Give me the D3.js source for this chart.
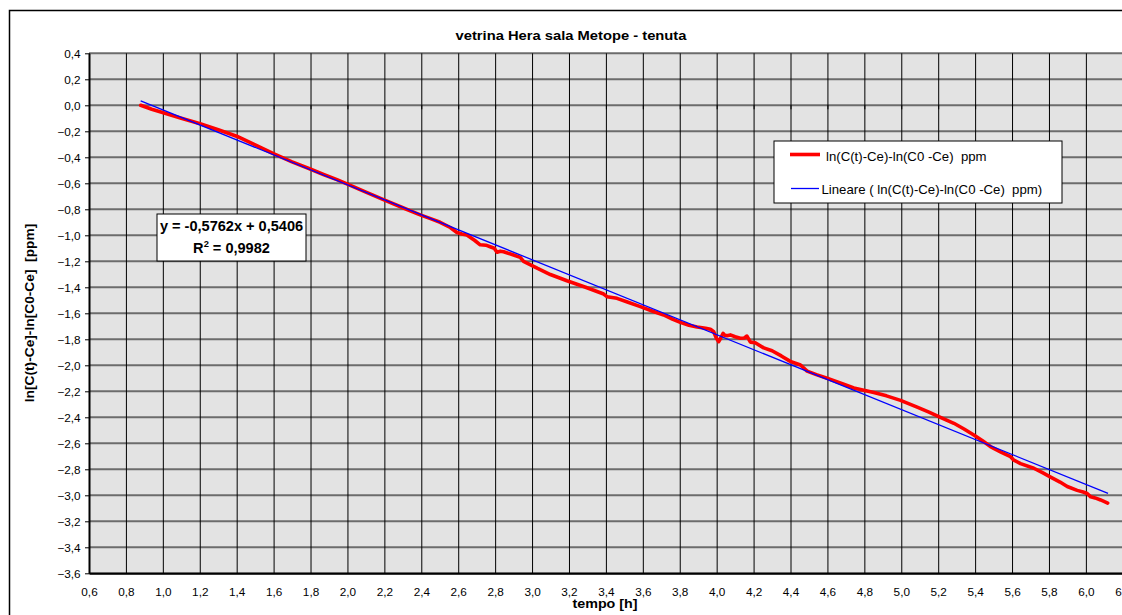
<!DOCTYPE html>
<html>
<head>
<meta charset="utf-8">
<script src="https://cdn.jsdelivr.net/npm/d3@7/dist/d3.min.js"></script>
<style>
  html, body { margin: 0; padding: 0; background: #fff; overflow: hidden; }
  svg { display: block; font-family: "Liberation Sans", Arial, sans-serif; }
</style>
</head>
<body>
<svg id="chart" width="1122" height="615"></svg>
<script>
// Measured series: elapsed time [h] and ln(C(t)-Ce)-ln(C0-Ce)
const tempo = [
  0.880, 0.940, 1.003, 1.100, 1.202, 1.300, 1.400, 1.500, 1.599, 1.700,
  1.798, 1.870, 1.943, 1.997, 2.100, 2.195, 2.300, 2.394, 2.450, 2.502,
  2.557, 2.593, 2.620, 2.647, 2.690, 2.719, 2.750, 2.773, 2.795, 2.810,
  2.828, 2.846, 2.900, 2.936, 2.954, 3.030, 3.099, 3.189, 3.290, 3.388,
  3.406, 3.460, 3.520, 3.587, 3.650, 3.713, 3.760, 3.803, 3.850, 3.894,
  3.940, 3.966, 3.984, 3.998, 4.011, 4.022, 4.035, 4.045, 4.056, 4.074,
  4.100, 4.128, 4.150, 4.164, 4.183, 4.209, 4.255, 4.300, 4.350, 4.399,
  4.454, 4.490, 4.540, 4.598, 4.688, 4.743, 4.851, 4.920, 4.996, 5.086,
  5.150, 5.212, 5.285, 5.340, 5.393, 5.440, 5.483, 5.540, 5.592, 5.610,
  5.646, 5.718, 5.770, 5.809, 5.860, 5.899, 5.953, 5.985, 6.007, 6.026,
  6.050, 6.080, 6.118
];
const lnRatio = [
  0.000, -0.030, -0.058, -0.100, -0.142, -0.188, -0.238, -0.305, -0.372, -0.435,
  -0.490, -0.532, -0.572, -0.605, -0.668, -0.725, -0.788, -0.843, -0.872, -0.900,
  -0.940, -0.978, -0.990, -0.998, -1.040, -1.073, -1.076, -1.088, -1.100, -1.130,
  -1.122, -1.126, -1.152, -1.170, -1.200, -1.255, -1.302, -1.350, -1.400, -1.452,
  -1.472, -1.485, -1.515, -1.549, -1.582, -1.613, -1.645, -1.670, -1.692, -1.706,
  -1.715, -1.722, -1.742, -1.790, -1.818, -1.790, -1.754, -1.770, -1.772, -1.766,
  -1.780, -1.792, -1.790, -1.775, -1.822, -1.826, -1.866, -1.888, -1.928, -1.970,
  -1.998, -2.045, -2.072, -2.100, -2.146, -2.175, -2.210, -2.235, -2.270, -2.322,
  -2.360, -2.400, -2.446, -2.490, -2.536, -2.580, -2.625, -2.668, -2.703, -2.730,
  -2.756, -2.792, -2.830, -2.860, -2.898, -2.932, -2.962, -2.975, -2.986, -3.012,
  -3.020, -3.036, -3.060
];

// Linear trend line
const trendSlope = -0.5762;
const trendIntercept = 0.5406;
const trendR2 = 0.9982;
const trendRange = [0.88, 6.12];

// Axis ticks
const xTicks = [0.6, 0.8, 1.0, 1.2, 1.4, 1.6, 1.8, 2.0, 2.2, 2.4, 2.6, 2.8, 3.0, 3.2, 3.4,
  3.6, 3.8, 4.0, 4.2, 4.4, 4.6, 4.8, 5.0, 5.2, 5.4, 5.6, 5.8, 6.0, 6.2];
const yTicks = [0.4, 0.2, 0.0, -0.2, -0.4, -0.6, -0.8, -1.0, -1.2, -1.4, -1.6, -1.8, -2.0,
  -2.2, -2.4, -2.6, -2.8, -3.0, -3.2, -3.4, -3.6];

const titleText = "vetrina Hera sala Metope - tenuta";
const xTitle = "tempo [h]";
const yTitle = "ln[C(t)-Ce]-ln[C0-Ce]  [ppm]";
const seriesName = "ln(C(t)-Ce)-ln(C0 -Ce)  ppm";
const trendName = "Lineare ( ln(C(t)-Ce)-ln(C0 -Ce)  ppm)";

const svg = d3.select("#chart");
const plot = { left: 89, right: 1122.8, top: 53.3, bottom: 573.3 };

const x = d3.scaleLinear().domain([0.6, 6.2]).range([plot.left, plot.right]);
const y = d3.scaleLinear().domain([-3.6, 0.4]).range([plot.bottom, plot.top]);
const fmt = v => d3.format(".1f")(Math.abs(v) < 1e-9 ? 0 : v).replace(".", ",");

// Horizontally widened text helper
function wideText(g, str, px, py, opts) {
  const o = Object.assign({ size: 11, weight: "normal", anchor: "middle", sx: 1.1, rotate: 0 }, opts);
  return g.append("text")
    .attr("transform", `translate(${px},${py})` + (o.rotate ? ` rotate(${o.rotate})` : "") + ` scale(${o.sx},1)`)
    .attr("text-anchor", o.anchor)
    .attr("font-size", o.size)
    .attr("font-weight", o.weight)
    .attr("fill", "#000")
    .attr("xml:space", "preserve")
    .text(str);
}

// Outer chart frame (continues past the right and bottom edges)
svg.append("path")
  .attr("d", "M9.5,640V10.5H1200")
  .attr("fill", "none").attr("stroke", "#000").attr("stroke-width", 1.5);

// Plot background
svg.append("rect")
  .attr("x", plot.left).attr("y", plot.top)
  .attr("width", plot.right - plot.left).attr("height", plot.bottom - plot.top)
  .attr("fill", "#e3e3e3");

// Horizontal grid (gray, heavier)
svg.append("g").selectAll("line")
  .data(yTicks)
  .join("line")
  .attr("x1", plot.left).attr("x2", plot.right)
  .attr("y1", d => y(d)).attr("y2", d => y(d))
  .attr("stroke", "#6c6c6c").attr("stroke-width", 2);

// Vertical grid (black, thin)
svg.append("g")
  .attr("transform", `translate(0,${plot.bottom})`)
  .call(d3.axisBottom(x).tickValues(xTicks).tickSize(-(plot.bottom - plot.top)).tickFormat(""))
  .call(g => g.select(".domain").remove())
  .call(g => g.selectAll("line").attr("stroke", "#000").attr("stroke-width", 1));

// Small tick marks where the horizontal axis crosses y = 0
svg.append("g").selectAll("line")
  .data(xTicks)
  .join("line")
  .attr("x1", d => x(d) + 0.5).attr("x2", d => x(d) + 0.5)
  .attr("y1", y(0)).attr("y2", y(0) + 4)
  .attr("stroke", "#000").attr("stroke-width", 1);

// Left axis
const yAxis = svg.append("g")
  .attr("transform", `translate(${plot.left},0)`)
  .call(d3.axisLeft(y).tickValues(yTicks).tickSize(4).tickSizeOuter(0).tickFormat(fmt));
yAxis.select(".domain").attr("stroke", "#000").attr("stroke-width", 2);
yAxis.selectAll("line").attr("stroke", "#000").attr("stroke-width", 1);
yAxis.selectAll("text").remove();
yAxis.selectAll(".tick").each(function (d) {
  wideText(d3.select(this), fmt(d), -8.5, 3.8, { size: 10.5, anchor: "end", sx: 1.12 });
});

// Bottom axis
const xAxis = svg.append("g")
  .attr("transform", `translate(0,${plot.bottom})`)
  .call(d3.axisBottom(x).tickValues(xTicks).tickSize(0).tickFormat(fmt));
xAxis.select(".domain").attr("stroke", "#000").attr("stroke-width", 2);
xAxis.selectAll("text").remove();
xAxis.selectAll(".tick").each(function (d) {
  wideText(d3.select(this), fmt(d), 0, 22.3, { size: 10.5, sx: 1.12 });
});

// Series lines
const pts = tempo.map((t, i) => [t, lnRatio[i]]);
const line = d3.line().x(d => x(d[0])).y(d => y(d[1]));

svg.append("path")
  .datum(pts)
  .attr("fill", "none")
  .attr("stroke", "#ff0000")
  .attr("stroke-width", 3.6)
  .attr("stroke-linejoin", "round")
  .attr("stroke-linecap", "round")
  .attr("d", line);

const trendPts = trendRange.map(t => [t, trendSlope * t + trendIntercept]);
svg.append("path")
  .datum(trendPts)
  .attr("fill", "none")
  .attr("stroke", "#0000ff")
  .attr("stroke-width", 1.3)
  .attr("d", line);

// Trend equation box
const eq = svg.append("g");
eq.append("rect")
  .attr("x", 157).attr("y", 214).attr("width", 149).attr("height", 47)
  .attr("fill", "#fff").attr("stroke", "#000").attr("stroke-width", 1);
const fmt4 = v => d3.format(".4f")(Math.abs(v)).replace(".", ",");
wideText(eq, `y = ${trendSlope < 0 ? "-" : ""}${fmt4(trendSlope)}x + ${fmt4(trendIntercept)}`, 231.5, 231, { size: 14, weight: "bold", sx: 1.04 });
const r2 = wideText(eq, "", 231.5, 252.5, { size: 14, weight: "bold", sx: 1.04 });
r2.append("tspan").text("R");
r2.append("tspan").attr("font-size", 9).attr("dy", -6).text("2");
r2.append("tspan").attr("dy", 6).text(` = ${fmt4(trendR2)}`);

// Legend
const lg = svg.append("g");
lg.append("rect")
  .attr("x", 774).attr("y", 141).attr("width", 288).attr("height", 62)
  .attr("fill", "#fff").attr("stroke", "#000").attr("stroke-width", 1);
lg.append("line").attr("x1", 790).attr("x2", 820).attr("y1", 154.5).attr("y2", 154.5)
  .attr("stroke", "#ff0000").attr("stroke-width", 3.6);
lg.append("line").attr("x1", 791).attr("x2", 819).attr("y1", 188.5).attr("y2", 188.5)
  .attr("stroke", "#0000ff").attr("stroke-width", 1.3);
wideText(lg, seriesName, 826, 161, { size: 12, anchor: "start", sx: 1.1 });
wideText(lg, trendName, 821.5, 193.5, { size: 12, anchor: "start", sx: 1.1 });

// Titles
wideText(svg, titleText, 571, 40, { size: 13.4, weight: "bold", sx: 1.1 });
wideText(svg, xTitle, 605, 608, { size: 13, weight: "bold", sx: 1.1 });
wideText(svg, yTitle, 34, 313, { size: 12.5, weight: "bold", sx: 1.1, rotate: -90 });
</script>
</body>
</html>
